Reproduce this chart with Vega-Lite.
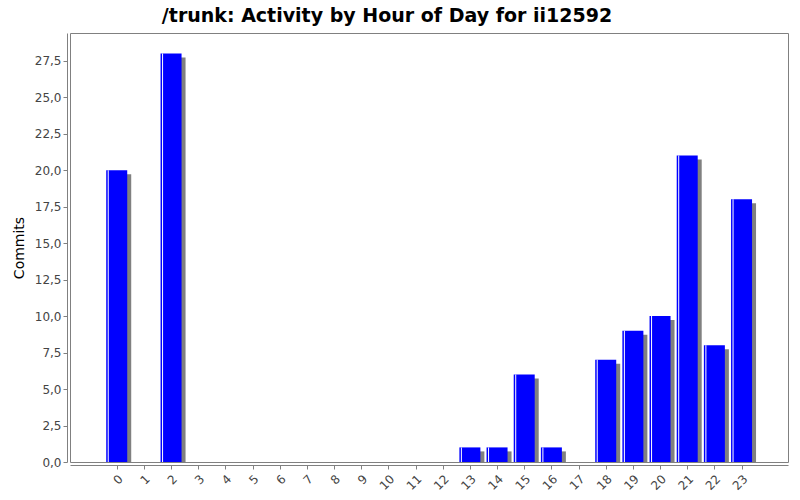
{
  "$schema": "https://vega.github.io/schema/vega-lite/v6.json",
  "width": 718,
  "height": 429,
  "autosize": {"type": "none"},
  "padding": {"left": 70, "top": 33, "right": 12, "bottom": 38},
  "background": "white",
  "title": {
    "text": "/trunk: Activity by Hour of Day for ii12592",
    "font": "DejaVu Sans",
    "fontSize": 19,
    "fontWeight": "bold",
    "color": "#000000",
    "anchor": "middle",
    "dx": -42,
    "offset": 7
  },
  "config": {
    "locale": {"number": {"decimal": ",", "thousands": ".", "grouping": [3], "currency": ["", "€"]}},
    "view": {"stroke": "#808080", "strokeWidth": 1},
    "axis": {
      "labelFont": "DejaVu Sans",
      "labelFontSize": 12,
      "labelColor": "#444444",
      "titleFont": "DejaVu Sans",
      "titleFontSize": 14,
      "titleFontWeight": "normal",
      "titleColor": "#000000",
      "domainColor": "#808080",
      "tickColor": "#808080",
      "tickSize": 4,
      "grid": false
    }
  },
  "data": {
    "values": [
      {"hour": 0, "commits": 20},
      {"hour": 1, "commits": 0},
      {"hour": 2, "commits": 28},
      {"hour": 3, "commits": 0},
      {"hour": 4, "commits": 0},
      {"hour": 5, "commits": 0},
      {"hour": 6, "commits": 0},
      {"hour": 7, "commits": 0},
      {"hour": 8, "commits": 0},
      {"hour": 9, "commits": 0},
      {"hour": 10, "commits": 0},
      {"hour": 11, "commits": 0},
      {"hour": 12, "commits": 0},
      {"hour": 13, "commits": 1},
      {"hour": 14, "commits": 1},
      {"hour": 15, "commits": 6},
      {"hour": 16, "commits": 1},
      {"hour": 17, "commits": 0},
      {"hour": 18, "commits": 7},
      {"hour": 19, "commits": 9},
      {"hour": 20, "commits": 10},
      {"hour": 21, "commits": 21},
      {"hour": 22, "commits": 8},
      {"hour": 23, "commits": 18}
    ]
  },
  "encoding": {
    "x": {
      "field": "hour",
      "type": "quantitative",
      "scale": {"domain": [-1.72, 24.71], "nice": false, "zero": false, "padding": 0},
      "axis": {
        "title": null,
        "labelAngle": -45,
        "offset": 3,
        "labelPadding": 4,
        "format": "d",
        "values": [0, 1, 2, 3, 4, 5, 6, 7, 8, 9, 10, 11, 12, 13, 14, 15, 16, 17, 18, 19, 20, 21, 22, 23],
        "labelFlush": false,
        "labelOverlap": false
      }
    },
    "y": {
      "field": "commits",
      "type": "quantitative",
      "scale": {"domain": [0, 29.4], "nice": false, "zero": true, "padding": 0},
      "axis": {"title": "Commits", "values": [0, 2.5, 5, 7.5, 10, 12.5, 15, 17.5, 20, 22.5, 25, 27.5], "format": ".1f", "offset": 3, "titlePadding": 8}
    }
  },
  "layer": [
    {"mark": {"type": "bar", "color": "#808080", "width": 21, "xOffset": 4, "yOffset": 4, "clip": true}},
    {"mark": {"type": "bar", "color": "#0000ff", "width": 21}},
    {"mark": {"type": "bar", "color": "#ffffff", "width": 1, "xOffset": -8.5}}
  ]
}
